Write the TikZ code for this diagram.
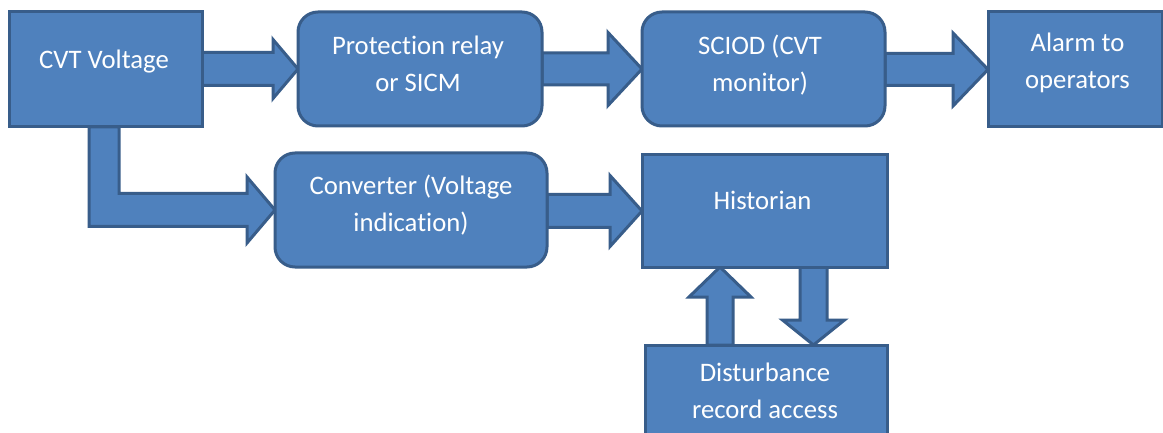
\documentclass[tikz,border=0pt]{standalone}
\usepackage{fontspec}
\setmainfont{Carlito}[Ligatures=CommonOff]
\usetikzlibrary{calc,backgrounds}

\definecolor{boxfill}{HTML}{4F81BD}
\definecolor{boxline}{HTML}{385D8A}

\tikzset{
  unitbox/.style={draw=boxline, fill=boxfill, line width=3pt, inner sep=0pt,
                  outer sep=0pt, anchor=north west},
  sqbox/.style={unitbox},
  rdbox/.style={unitbox, rounded corners=20pt},
  lbl/.style={text=white, align=center, inner sep=0pt,
              font=\fontsize{26.7}{37}\selectfont},
  barrow/.style={draw=boxline, fill=boxfill, line width=3pt, line join=miter},
}

% Right-pointing block arrow from #1.east to #2.west
% #3 shaft half-width, #4 head half-width, #5 head length
\newcommand\rightblock[5]{%
  \draw[barrow] let \p1=(#1.east), \p2=(#2.west) in
    (\x1,{\y2+#3}) -- ({\x2-#5},{\y2+#3}) -- ({\x2-#5},{\y2+#4}) -- (\x2,\y2)
    -- ({\x2-#5},{\y2-#4}) -- ({\x2-#5},{\y2-#3}) -- (\x1,{\y2-#3}) -- cycle;}

% Vertical block arrow from coordinate #1 (tail) to coordinate #2 (tip)
\newcommand\vertblock[5]{%
  \draw[barrow] let \p1=(#1), \p2=(#2), \n1={sign(\y2-\y1)} in
    ({\x1-#3},\y1) -- ({\x1-#3},{\y2-\n1*#5}) -- ({\x1-#4},{\y2-\n1*#5}) -- (\x1,\y2)
    -- ({\x1+#4},{\y2-\n1*#5}) -- ({\x1+#3},{\y2-\n1*#5}) -- ({\x1+#3},\y1) -- cycle;}

\begin{document}
\begin{tikzpicture}[x=1pt,y=-1pt]
  \useasboundingbox (0,0) rectangle (1163,433);

  % boxes
  \node[sqbox, minimum width=193pt, minimum height=115pt] (cvt)   at (9,12)   {};
  \node[rdbox, minimum width=244pt, minimum height=114pt] (prot)  at (298,12) {};
  \node[rdbox, minimum width=243pt, minimum height=114pt] (sciod) at (642,12) {};
  \node[sqbox, minimum width=174pt, minimum height=115pt] (alarm) at (988,12) {};
  \node[rdbox, minimum width=272pt, minimum height=114pt] (conv)  at (275,153) {};
  \node[sqbox, minimum width=245pt, minimum height=112pt] (hist)  at (642,155) {};
  \node[sqbox, minimum width=242pt, minimum height=115pt] (dist)  at (645,345) {};

  % labels
  \node[lbl] (cvt-t)   at ($(cvt.center)+(-1.5,-8)$)  {\strut CVT Voltage};
  \node[lbl] (prot-t)  at ($(prot.center)+(-2,-3)$)   {\strut Protection relay\\\strut or SICM};
  \node[lbl] (sciod-t) at ($(sciod.center)+(-3.5,-3)$) {\strut SCIOD (CVT\\\strut monitor)};
  \node[lbl] (alarm-t) at ($(alarm.center)+(2.5,-7)$) {\strut Alarm to\\\strut operators};
  \node[lbl] (conv-t)  at ($(conv.center)+(0,-4)$)    {\strut Converter (Voltage\\\strut indication)};
  \node[lbl] (hist-t)  at ($(hist.center)+(-2,-8.4)$) {\strut Historian};
  \node[lbl] (dist-t)  at ($(dist.north)+(-1,47.6)$)  {\strut Disturbance\\\strut record access};

  % anchor points of the two vertical arrows
  \coordinate (upTip)    at ($(hist.south)+(-44.5,0)$);
  \coordinate (upTail)   at (upTip |- dist.north);
  \coordinate (downTail) at ($(hist.south)+(49,0)$);
  \coordinate (downTip)  at (downTail |- dist.north);

  \begin{pgfonlayer}{background}
    \fill[white] (0,0) rectangle (1163,433);

    \rightblock{cvt}{prot}{16.5pt}{29.5pt}{25pt}
    \rightblock{prot}{sciod}{16pt}{36.5pt}{34pt}
    \rightblock{sciod}{alarm}{16pt}{36.5pt}{35pt}
    \rightblock{conv}{hist}{16.5pt}{35.5pt}{32pt}

    % bent arrow: CVT Voltage down and across to the converter
    \draw[barrow] let \p1=(cvt.south), \p2=(conv.west) in
      ({\x1-16.5pt},\y1) -- ({\x1-16.5pt},{\y2-16.5pt}) -- ({\x2-28pt},{\y2-16.5pt})
      -- ({\x2-28pt},{\y2-33pt}) -- (\x2,\y2) -- ({\x2-28pt},{\y2+33pt})
      -- ({\x2-28pt},{\y2+16.5pt}) -- ({\x1+13.5pt},{\y2+16.5pt}) -- ({\x1+13.5pt},\y1) -- cycle;

    \vertblock{upTail}{upTip}{13pt}{31pt}{30pt}
    \vertblock{downTail}{downTip}{13.5pt}{31pt}{25pt}
  \end{pgfonlayer}
\end{tikzpicture}
\end{document}
